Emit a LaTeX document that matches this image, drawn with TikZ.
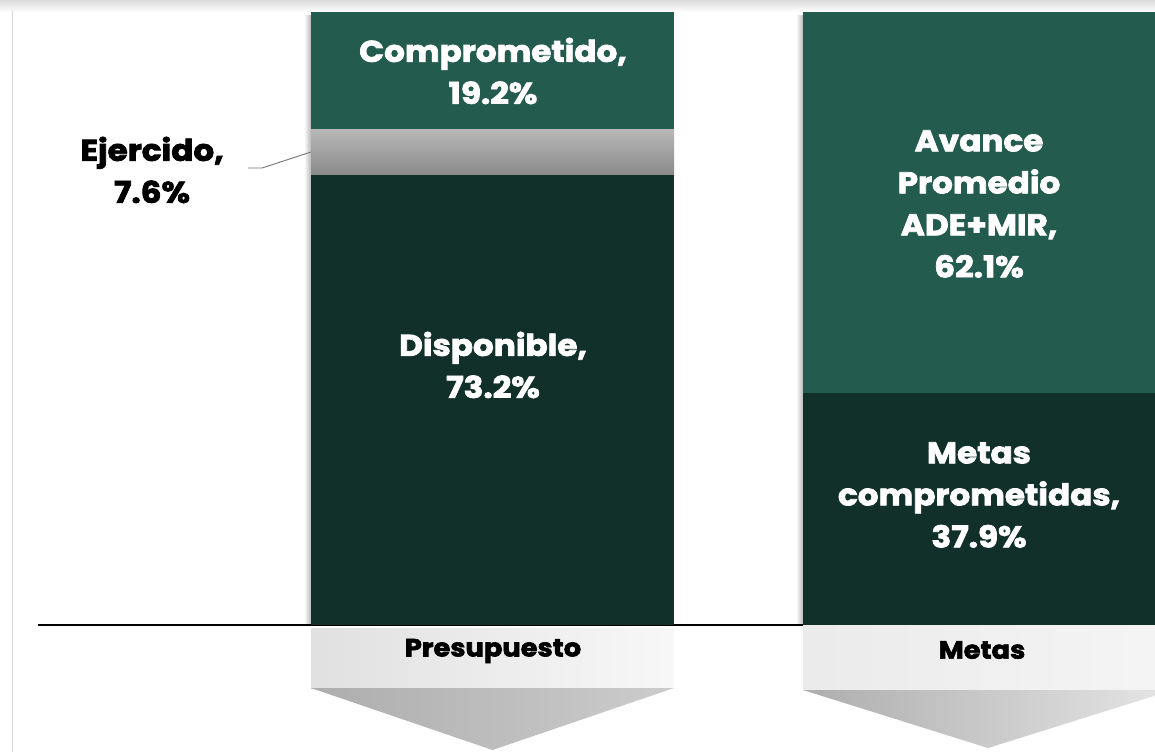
\documentclass[tikz,border=0pt]{standalone}
\usepackage{fontspec}
\setmainfont{Poppins}[BoldFeatures={FakeBold=2.5, FakeStretch=1.09}]
\usetikzlibrary{calc}
\definecolor{verdeclaro}{HTML}{235B4E}
\definecolor{verdeoscuro}{HTML}{12302A}
\def\sombra(#1,#2)(#3){\shade[left color=white, right color=black!28] (#1-7,#2) rectangle (#1,#3);}

\begin{document}
\begin{tikzpicture}[x=1pt, y=-1pt,
		seg/.style={draw=none, inner sep=0pt, outer sep=0pt, anchor=north west},
		txtbar/.style={text=white, align=center, font=\bfseries\fontsize{30}{42}\selectfont},
		txtcap/.style={font=\bfseries\fontsize{25}{28}\selectfont}]
			%%%%% START %%%%%
			\useasboundingbox (0,0) rectangle (1155,752);
			\clip (0,0) rectangle (1155,752);
			\fill[white] (0,0) rectangle (1155,752);
			\shade[top color=black!14, bottom color=white] (0,0) rectangle (1155,12);
			\draw[line width=0.8, color=black!15] (12,10) -- (12,752);
			
			\sombra(311,16)(625)
			\sombra(803,16)(625)
			
			\draw[line width=1.3, color=black] (38,625) -- (803,625);
			
			\node[seg, fill=verdeclaro, minimum width=363, minimum height=117] (comp) at (311,12) {};
			\node[seg, top color=black!28, bottom color=black!46, minimum width=363, minimum height=46] (ejer) at (311,129) {};
			\node[seg, fill=verdeoscuro, minimum width=363, minimum height=450] (disp) at (311,175) {};
			
			\node[seg, fill=verdeclaro, minimum width=370, minimum height=381] (avan) at (803,12) {};
			\node[seg, fill=verdeoscuro, minimum width=370, minimum height=232] (meta) at (803,393) {};
			
			\node[txtbar] (tcomp) at (493,71) {Comprometido,\\19.2\%};
			\node[txtbar] (tdisp) at (493,365) {Disponible,\\73.2\%};
			\node[txtbar] (tavan) at (979,204) {Avance\\Promedio\\ADE+MIR,\\62.1\%};
			\node[txtbar] (tmeta) at (979,495) {Metas\\comprometidas,\\37.9\%};
			
			\node[align=center, font=\bfseries\fontsize{30}{42}\selectfont] (tejer) at (152,170) {Ejercido,\\7.6\%};
			\coordinate (lpunto) at (248,168);
			\draw[line width=0.9, color=black!55] (lpunto) -- ++(14,0) -- (ejer.west);
			
			\node[seg, left color=black!12, right color=black!3, minimum width=363, minimum height=60] (cpres) at (311,628) {};
			\shade[left color=black!32, right color=black!20] (cpres.south west) -- (cpres.south east) -- ($(cpres.south)+(0,62)$) -- cycle;
			\node[txtcap] (tpres) at (493,651) {Presupuesto};
			
			\node[seg, left color=black!8, right color=black!4, minimum width=370, minimum height=65] (cmeta) at (803,625) {};
			\shade[left color=black!32, right color=black!10] (cmeta.south west) -- (cmeta.south east) -- ($(cmeta.south)+(0,58)$) -- cycle;
			\node[txtcap] (tmetas) at (982,650) {Metas};
			%%%%% END %%%%%
		\end{tikzpicture}
\end{document}
